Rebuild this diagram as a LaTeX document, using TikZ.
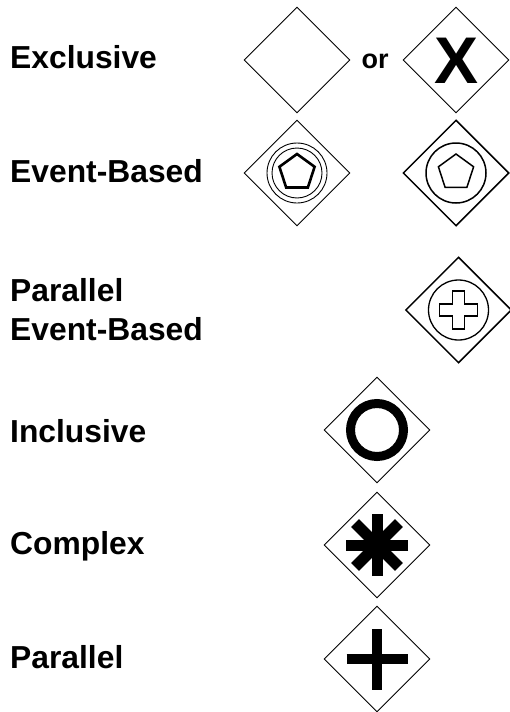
\documentclass[tikz,border=0pt]{standalone}
\usepackage{fontspec}
\setmainfont{Liberation Sans}
\usetikzlibrary{shapes.geometric}
\begin{document}
\begin{tikzpicture}[x=1pt,y=-1pt,
  gw/.style={diamond,draw,minimum width=106pt,minimum height=106pt,inner sep=0pt,line width=0.9pt},
  gwthick/.style={gw,line width=1.5pt},
  lbl/.style={anchor=base west,inner sep=0pt,font=\fontsize{31.8}{39}\selectfont\bfseries},
  ring/.style={circle,draw,inner sep=0pt},
  penta/.style={regular polygon,regular polygon sides=5,draw,inner sep=0pt,minimum size=37pt},
  bar/.style={line width=11pt}]
\useasboundingbox[fill=white] (0,0) rectangle (510,712);

% labels
\node[lbl] (l1) at (10,68) {Exclusive};
\node[lbl] (l2) at (10,182) {Event-Based};
\node[lbl] (l3a) at (10,301) {Parallel};
\node[lbl] (l3b) at (10,340) {Event-Based};
\node[lbl] (l4) at (10,442) {Inclusive};
\node[lbl] (l5) at (10,554) {Complex};
\node[lbl] (l6) at (10,668) {Parallel};

% exclusive
\node[gw] (d1) at (297,60) {};
\node[anchor=base,inner sep=0pt,font=\fontsize{27}{27}\selectfont\bfseries] (or) at (375,68) {or};
\node[gw] (d2) at (456,60) {};
\node[inner sep=0pt,font=\fontsize{66}{66}\selectfont\bfseries] (xm) at (456.5,60.5) {X};

% event-based
\node[gw] (d3) at (297,173) {};
\node[ring,minimum size=60pt,line width=0.9pt] (c3a) at (d3.center) {};
\node[ring,minimum size=50pt,line width=0.9pt] (c3b) at (d3.center) {};
\node[penta,line width=2.6pt] (p3) at (297,172.5) {};

\node[gwthick] (d4) at (456,173) {};
\node[ring,minimum size=60pt,line width=1.5pt] (c4) at (d4.center) {};
\node[penta,line width=1.5pt] (p4) at (456,172.5) {};

% parallel event-based
\node[gwthick] (d5) at (458.5,310) {};
\node[ring,minimum size=60pt,line width=1.3pt] (c5) at (d5.center) {};
\draw[line width=1.3pt,shift={(d5.center)}]
  (-6,-19) -- (6,-19) -- (6,-6) -- (19,-6) -- (19,6) -- (6,6) -- (6,19)
  -- (-6,19) -- (-6,6) -- (-19,6) -- (-19,-6) -- (-6,-6) -- cycle;

% inclusive
\node[gw] (d6) at (377,430) {};
\node[ring,minimum size=53pt,line width=9pt] (c6) at (d6.center) {};

% complex
\node[gw] (d7) at (377,545) {};
\foreach \a in {0,45,90,135}
  \draw[bar] ([shift={(\a:31)}]d7.center) -- ([shift={(\a+180:31)}]d7.center);

% parallel
\node[gw] (d8) at (377,659) {};
\draw[bar,line width=10.5pt] ([xshift=-30.5pt]d8.center) -- ([xshift=30.5pt]d8.center);
\draw[bar,line width=10.5pt] ([yshift=-30.5pt]d8.center) -- ([yshift=30.5pt]d8.center);
\end{tikzpicture}
\end{document}
